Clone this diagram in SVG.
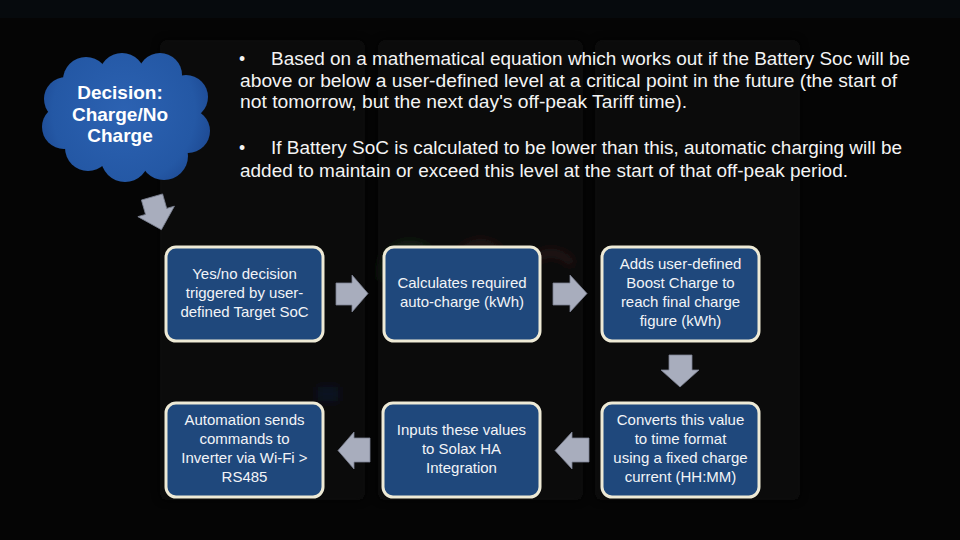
<svg xmlns="http://www.w3.org/2000/svg" width="960" height="540" viewBox="0 0 960 540">
  <defs>
    <radialGradient id="cloudGrad" gradientUnits="userSpaceOnUse" cx="124" cy="112" r="95">
      <stop offset="0%" stop-color="#2c62b2"/>
      <stop offset="75%" stop-color="#2458a5"/>
      <stop offset="100%" stop-color="#1c4790"/>
    </radialGradient>
    <filter id="blur" x="-20%" y="-20%" width="140%" height="140%">
      <feGaussianBlur stdDeviation="4"/>
    </filter>
    <style>
      .box { fill: #1f487c; stroke: #eeead6; stroke-width: 3; }
      .btxt { font-family: "Liberation Sans", Arial, sans-serif; font-size: 15px; fill: #f2f4f7; text-anchor: middle; }
      .arrow { fill: #a8adbd; stroke: #7c8292; stroke-width: 0.8; }
      .bul { font-family: "Liberation Sans", Arial, sans-serif; font-size: 17.5px; fill: #f4f4f4; }
      .ctxt { font-family: "Liberation Sans", Arial, sans-serif; font-size: 19px; font-weight: bold; fill: #ffffff; text-anchor: middle; }
      .bg { fill: #090909; }
    </style>
  </defs>

  <!-- background -->
  <rect x="0" y="0" width="960" height="540" fill="#050505"/>
  <rect x="0" y="0" width="960" height="18" fill="#060a0d"/>
  <g filter="url(#blur)" opacity="0.8">
    <rect class="bg" x="160" y="40" width="205" height="460" rx="6"/>
    <rect class="bg" x="378" y="40" width="205" height="460" rx="6"/>
    <rect class="bg" x="595" y="40" width="205" height="460" rx="6"/>
    <g opacity="0.5">
      <path d="M386 280 A 26 26 0 0 1 430 254" fill="none" stroke="#2f5a35" stroke-width="5"/>
      <path d="M456 262 A 26 26 0 0 1 500 252" fill="none" stroke="#5a2b2b" stroke-width="5"/>
      <path d="M530 264 A 26 26 0 0 1 572 264" fill="none" stroke="#5a2b2b" stroke-width="5"/>
      <rect x="318" y="387" width="20" height="14" fill="#0e2a4a"/>
    </g>
  </g>

  <!-- cloud node -->
  <g id="cloud">
    <g fill="url(#cloudGrad)">
      <ellipse cx="126" cy="117" rx="74" ry="52"/>
      <circle cx="86" cy="80" r="23"/>
      <circle cx="122" cy="76" r="23"/>
      <circle cx="160" cy="75" r="22"/>
      <circle cx="186" cy="97" r="22"/>
      <circle cx="188" cy="131" r="22"/>
      <circle cx="164" cy="156" r="24"/>
      <circle cx="125" cy="158" r="24"/>
      <circle cx="88" cy="148" r="23"/>
      <circle cx="64" cy="127" r="22"/>
      <circle cx="66" cy="99" r="22"/>
    </g>
    <text class="ctxt" x="120" y="99">Decision:</text>
    <text class="ctxt" x="120" y="121">Charge/No</text>
    <text class="ctxt" x="120" y="142">Charge</text>
  </g>

  <!-- bullet text -->
  <g id="bullets">
    <text class="bul" x="239" y="65">•</text>
    <text class="bul" x="271" y="65" textLength="639" lengthAdjust="spacingAndGlyphs">Based on a mathematical equation which works out if the Battery Soc will be</text>
    <text class="bul" x="240" y="87" textLength="657" lengthAdjust="spacingAndGlyphs">above or below a user-defined level at a critical point in the future (the start of</text>
    <text class="bul" x="240" y="108" textLength="447" lengthAdjust="spacingAndGlyphs">not tomorrow, but the next day's off-peak Tariff time).</text>
    <text class="bul" x="239" y="154">•</text>
    <text class="bul" x="271" y="154" textLength="631" lengthAdjust="spacingAndGlyphs">If Battery SoC is calculated to be lower than this, automatic charging will be</text>
    <text class="bul" x="240" y="177" textLength="608" lengthAdjust="spacingAndGlyphs">added to maintain or exceed this level at the start of that off-peak period.</text>
  </g>

  <!-- process nodes -->
  <g id="node1">
    <rect class="box" x="166" y="247" width="157" height="94" rx="10"/>
    <text class="btxt" x="244.5" y="279">Yes/no decision</text>
    <text class="btxt" x="244.5" y="298">triggered by user-</text>
    <text class="btxt" x="244.5" y="317">defined Target SoC</text>
  </g>
  <g id="node2">
    <rect class="box" x="384" y="247" width="156" height="94" rx="10"/>
    <text class="btxt" x="462" y="288">Calculates required</text>
    <text class="btxt" x="462" y="307">auto-charge (kWh)</text>
  </g>
  <g id="node3">
    <rect class="box" x="602" y="247" width="157" height="94" rx="10"/>
    <text class="btxt" x="680.5" y="269">Adds user-defined</text>
    <text class="btxt" x="680.5" y="288">Boost Charge to</text>
    <text class="btxt" x="680.5" y="307">reach final charge</text>
    <text class="btxt" x="680.5" y="326">figure (kWh)</text>
  </g>
  <g id="node4">
    <rect class="box" x="602" y="403" width="157" height="94" rx="10"/>
    <text class="btxt" x="680.5" y="425">Converts this value</text>
    <text class="btxt" x="680.5" y="444">to time format</text>
    <text class="btxt" x="680.5" y="463">using a fixed charge</text>
    <text class="btxt" x="680.5" y="482">current (HH:MM)</text>
  </g>
  <g id="node5">
    <rect class="box" x="383" y="403" width="157" height="94" rx="10"/>
    <text class="btxt" x="461.5" y="435">Inputs these values</text>
    <text class="btxt" x="461.5" y="454">to Solax HA</text>
    <text class="btxt" x="461.5" y="473">Integration</text>
  </g>
  <g id="node6">
    <rect class="box" x="166" y="403" width="157" height="94" rx="10"/>
    <text class="btxt" x="244.5" y="425">Automation sends</text>
    <text class="btxt" x="244.5" y="444">commands to</text>
    <text class="btxt" x="244.5" y="463">Inverter via Wi-Fi &gt;</text>
    <text class="btxt" x="244.5" y="482">RS485</text>
  </g>

  <!-- connectors (block arrows) -->
  <g id="connectors">
    <polygon class="arrow" transform="translate(152 197) rotate(-16)" points="-11,0 11,0 11,15 19,15 0,34 -19,15 -11,15"/>
    <polygon class="arrow" points="336,283 352,283 352,275 368,293.5 352,312 352,305 336,305"/>
    <polygon class="arrow" points="553,283 570,283 570,275 587,293.5 570,312 570,305 553,305"/>
    <polygon class="arrow" points="669,355 692,355 692,370 699,370 680,387 661,370 669,370"/>
    <polygon class="arrow" points="589,438 572,438 572,432 555,450.5 572,469 572,462 589,462"/>
    <polygon class="arrow" points="370,438 354,438 354,432 338,450.5 354,469 354,462 370,462"/>
  </g>
</svg>
